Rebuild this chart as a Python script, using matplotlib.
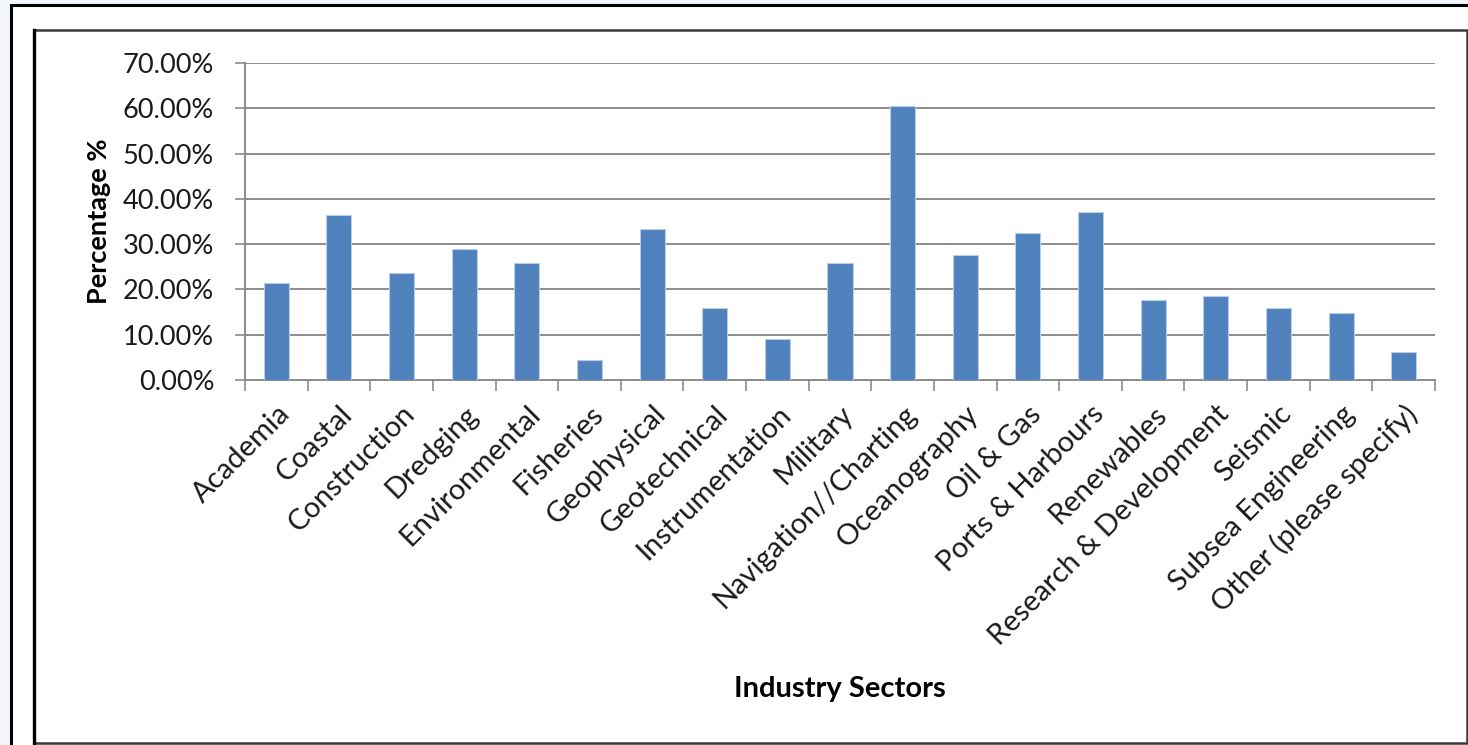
import matplotlib
matplotlib.use("Agg")
import matplotlib.pyplot as plt
from matplotlib.patches import Rectangle
from matplotlib.ticker import FixedLocator, FuncFormatter
import numpy as np

# Survey results: share of respondents working in each industry sector
sectors = ["Academia", "Coastal", "Construction", "Dredging", "Environmental",
           "Fisheries", "Geophysical", "Geotechnical", "Instrumentation",
           "Military", "Navigation//Charting", "Oceanography", "Oil & Gas",
           "Ports & Harbours", "Renewables", "Research & Development",
           "Seismic", "Subsea Engineering", "Other (please specify)"]
percentages = [21.5, 36.4, 23.7, 29.0, 25.9, 4.5, 33.4, 15.8, 9.0,
               25.9, 60.6, 27.7, 32.5, 37.2, 17.6, 18.5, 15.8, 14.9, 6.2]
yticks = [0, 10, 20, 30, 40, 50, 60, 70]

W, H = 1468, 745
bar_color = '#4f81bd'
grid_color = '#8c8c8c'
text_color = '#1a1a1a'
font = 'Lato'

plt.rcParams['font.family'] = [font, 'DejaVu Sans']

fig = plt.figure(figsize=(W / 100, H / 100), dpi=100, facecolor='#f3f7fb')

# pixel box helper (top-left origin) -> figure fraction
def box(x0, y0, x1, y1):
    return (x0 / W, 1 - y1 / H, (x1 - x0) / W, (y1 - y0) / H)

# outer and inner frames around the chart
bx = box(11, 5, 1480, 760)
fig.patches.append(Rectangle(bx[:2], bx[2], bx[3], transform=fig.transFigure,
                             facecolor='white', edgecolor='black', lw=2.2, zorder=-3))
bx = box(33.5, 29.5, 1466.5, 743)
fig.patches.append(Rectangle(bx[:2], bx[2], bx[3], transform=fig.transFigure,
                             facecolor='white', edgecolor='#3a3a3a', lw=1.8, zorder=-2))
fig.add_artist(plt.Line2D([34 / W, 34 / W], [1 - 743 / H, 1 - 30 / H],
                          transform=fig.transFigure, color='black', lw=2.4, zorder=-1))

ax = fig.add_axes(box(245, 63, 1435, 380))
ax.set_zorder(2)
ax.set_facecolor('none')

x = np.arange(len(sectors))
ax.bar(x, percentages, width=0.4, color=bar_color, edgecolor='#b9cde5',
       linewidth=0.8, zorder=3)

ax.set_xlim(-0.5, len(sectors) - 0.5)
ax.set_ylim(0, 70)

ax.set_yticks(yticks)
ax.yaxis.set_major_formatter(FuncFormatter(lambda v, p: "%.2f%%" % v))
ax.grid(axis='y', color=grid_color, lw=1.4, zorder=0)
ax.tick_params(axis='y', length=7.2, width=1.2, color=grid_color, pad=15,
               labelsize=19.5, labelcolor=text_color)

ax.set_xticks(x)
ax.set_xticklabels(sectors, rotation=45, ha='right', rotation_mode='anchor',
                   fontsize=21, color=text_color)
ax.tick_params(axis='x', which='major', length=0, pad=15)
ax.xaxis.set_minor_locator(FixedLocator(np.arange(-0.5, len(sectors), 1)))
ax.tick_params(axis='x', which='minor', length=8, width=1.2, color=grid_color)

for side in ['top', 'right']:
    ax.spines[side].set_visible(False)
for side in ['left', 'bottom']:
    ax.spines[side].set_color(grid_color)
    ax.spines[side].set_linewidth(1.4)

ax.set_ylabel("Percentage %", fontsize=19.5, fontweight='bold')
ax.yaxis.set_label_coords((111 - 245) / 1190, 0.5)
ax.set_xlabel("Industry Sectors", fontsize=21, fontweight='bold')
ax.xaxis.set_label_coords(0.5, (380 - 676) / 317)

fig.savefig("out.png", dpi=100, facecolor=fig.get_facecolor())
